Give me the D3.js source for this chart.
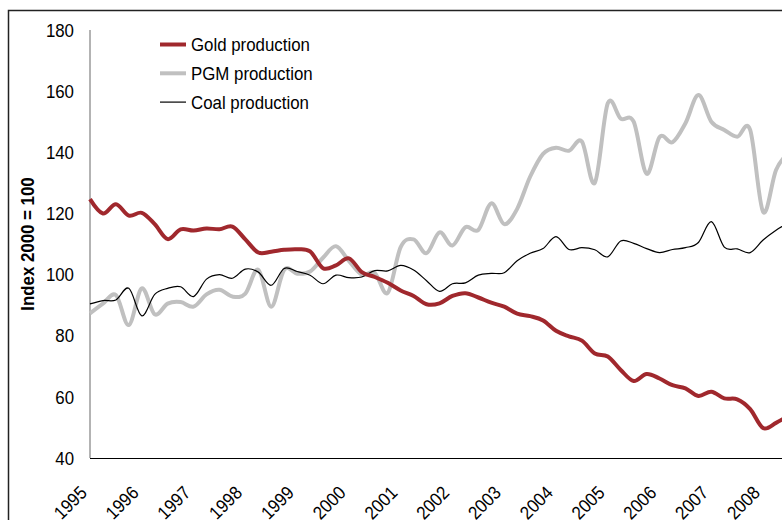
<!DOCTYPE html>
<html>
    <head>
        <title>Gold, PGM and coal production</title>
        <script src="https://d3js.org/d3.v7.min.js"></script>
        <style>
         body { margin: 0; background: #fff; }
         svg text { font-family: "Liberation Sans", Arial, sans-serif; fill: #000; }
        </style>
    </head>
    <body>
        <svg width="782" height="520"></svg>

        <script>
         // quarterly observations, 1995Q1 onwards
         const firstYear = 1995;
         const yearTicks = [1995, 1996, 1997, 1998, 1999, 2000, 2001, 2002, 2003, 2004, 2005, 2006, 2007, 2008];
         const yTicks = [40, 60, 80, 100, 120, 140, 160, 180];

         const gold = [124.7, 120.0, 123.0, 119.3, 120.2, 116.5, 111.6, 114.8, 114.4, 115.1,
                       114.8, 115.7, 111.5, 107.2, 107.5, 108.1, 108.3, 107.6, 102.1, 103.0,
                       105.3, 100.8, 99.2, 97.3, 94.8, 93.0, 90.3, 90.6, 93.0, 93.9,
                       92.5, 90.8, 89.5, 87.2, 86.4, 85.0, 81.6, 79.8, 78.4, 74.2,
                       73.2, 68.8, 65.2, 67.5, 66.0, 63.8, 62.8, 60.3, 61.7, 59.5,
                       59.2, 56.0, 49.8, 51.5, 54.0];
         const pgm = [87.3, 90.5, 93.3, 83.5, 95.5, 87.0, 90.5, 91.0, 89.5, 93.5,
                      95.0, 92.8, 93.8, 101.6, 89.5, 101.6, 100.3, 101.0, 105.5, 109.3,
                      104.5, 100.0, 100.5, 94.0, 109.0, 111.5, 107.0, 113.8, 109.5, 115.5,
                      114.6, 123.3, 116.5, 121.5, 132.0, 139.5, 141.5, 140.5, 143.5, 130.0,
                      156.0, 151.0, 150.0, 133.0, 145.0, 143.3, 149.5, 158.7, 150.0, 147.3,
                      145.1, 147.3, 120.5, 134.2, 140.0];
         const coal = [90.4, 91.5, 91.7, 95.5, 86.5, 93.5, 95.5, 96.0, 92.8, 98.5,
                       100.0, 98.8, 101.8, 100.8, 96.5, 102.0, 101.0, 99.8, 97.0, 99.8,
                       99.0, 99.2, 101.3, 101.2, 103.0, 101.5, 98.0, 94.5, 97.0, 97.3,
                       99.8, 100.4, 100.6, 104.5, 107.0, 108.5, 112.4, 108.2, 108.8, 108.1,
                       105.8, 111.0, 110.2, 108.5, 107.2, 108.2, 108.8, 110.5, 117.3, 109.0,
                       108.4, 107.2, 111.3, 114.5, 117.0];

         const series = [
             {name: "Gold production", values: gold, color: "#a0282d", width: 4},
             {name: "PGM production", values: pgm, color: "#c0c0c0", width: 4},
             {name: "Coal production", values: coal, color: "#000", width: 1.2}
         ];

         const svg = d3.select("svg");

         // the source uses a narrow face; squeeze the glyphs a little
         function narrow(sel) {
             sel.each(function () {
                 const w = this.getComputedTextLength();
                 d3.select(this)
                   .attr("textLength", w * 0.91)
                   .attr("lengthAdjust", "spacingAndGlyphs");
             });
         }

         // chart frame (cut off on the right like the source)
         svg.append("rect")
            .attr("x", 8.5).attr("y", 10.5)
            .attr("width", 800).attr("height", 540)
            .attr("fill", "none")
            .attr("stroke", "#222")
            .attr("stroke-width", 1.5);

         const x = d3.scaleLinear().domain([1995, 2008.5]).range([90, 789]);
         const y = d3.scaleLinear().domain([40, 180]).range([458, 30]);

         // axes
         svg.append("line")
            .attr("x1", 90).attr("x2", 90)
            .attr("y1", y(180)).attr("y2", y(40))
            .attr("stroke", "#808080").attr("stroke-width", 1.2);
         svg.append("line")
            .attr("x1", 90).attr("x2", 782)
            .attr("y1", y(40) + 0.5).attr("y2", y(40) + 0.5)
            .attr("stroke", "#000").attr("stroke-width", 1.2);

         svg.selectAll(".ytick")
            .data(yTicks)
            .join("text")
            .attr("class", "ytick")
            .attr("x", 74)
            .attr("y", d => y(d))
            .attr("dy", "0.36em")
            .attr("text-anchor", "end")
            .attr("font-size", 18.5)
            .text(d => d)
            .call(narrow);

         svg.selectAll(".xtick")
            .data(yearTicks)
            .join("text")
            .attr("class", "xtick")
            .attr("text-anchor", "end")
            .attr("font-size", 18.5)
            .attr("transform", d => `translate(${x(d) - 2},494) rotate(-45)`)
            .text(d => d)
            .call(narrow);

         svg.append("text")
            .attr("text-anchor", "middle")
            .attr("font-size", 18.5)
            .attr("font-weight", "bold")
            .attr("transform", "translate(34,244) rotate(-90)")
            .text("Index 2000 = 100")
            .call(narrow);

         // lines
         const line = d3.line()
            .x((d, i) => x(firstYear + i / 4))
            .y(d => y(d))
            .curve(d3.curveCatmullRom.alpha(0));

         // gray first, then black, then red on top
         [series[1], series[2], series[0]].forEach(s => {
             svg.append("path")
                .datum(s.values)
                .attr("fill", "none")
                .attr("stroke", s.color)
                .attr("stroke-width", s.width)
                .attr("stroke-linejoin", "round")
                .attr("d", line);
         });

         // legend
         const legend = svg.append("g").attr("transform", "translate(160,44.5)");
         series.forEach((s, i) => {
             legend.append("line")
                .attr("x1", 0).attr("x2", 26)
                .attr("y1", i * 28.8).attr("y2", i * 28.8)
                .attr("stroke", s.color)
                .attr("stroke-width", s.width);
             legend.append("text")
                .attr("x", 31)
                .attr("y", i * 28.8)
                .attr("dy", "0.36em")
                .attr("font-size", 18.5)
                .text(s.name)
                .call(narrow);
         });
        </script>
    </body>
</html>
